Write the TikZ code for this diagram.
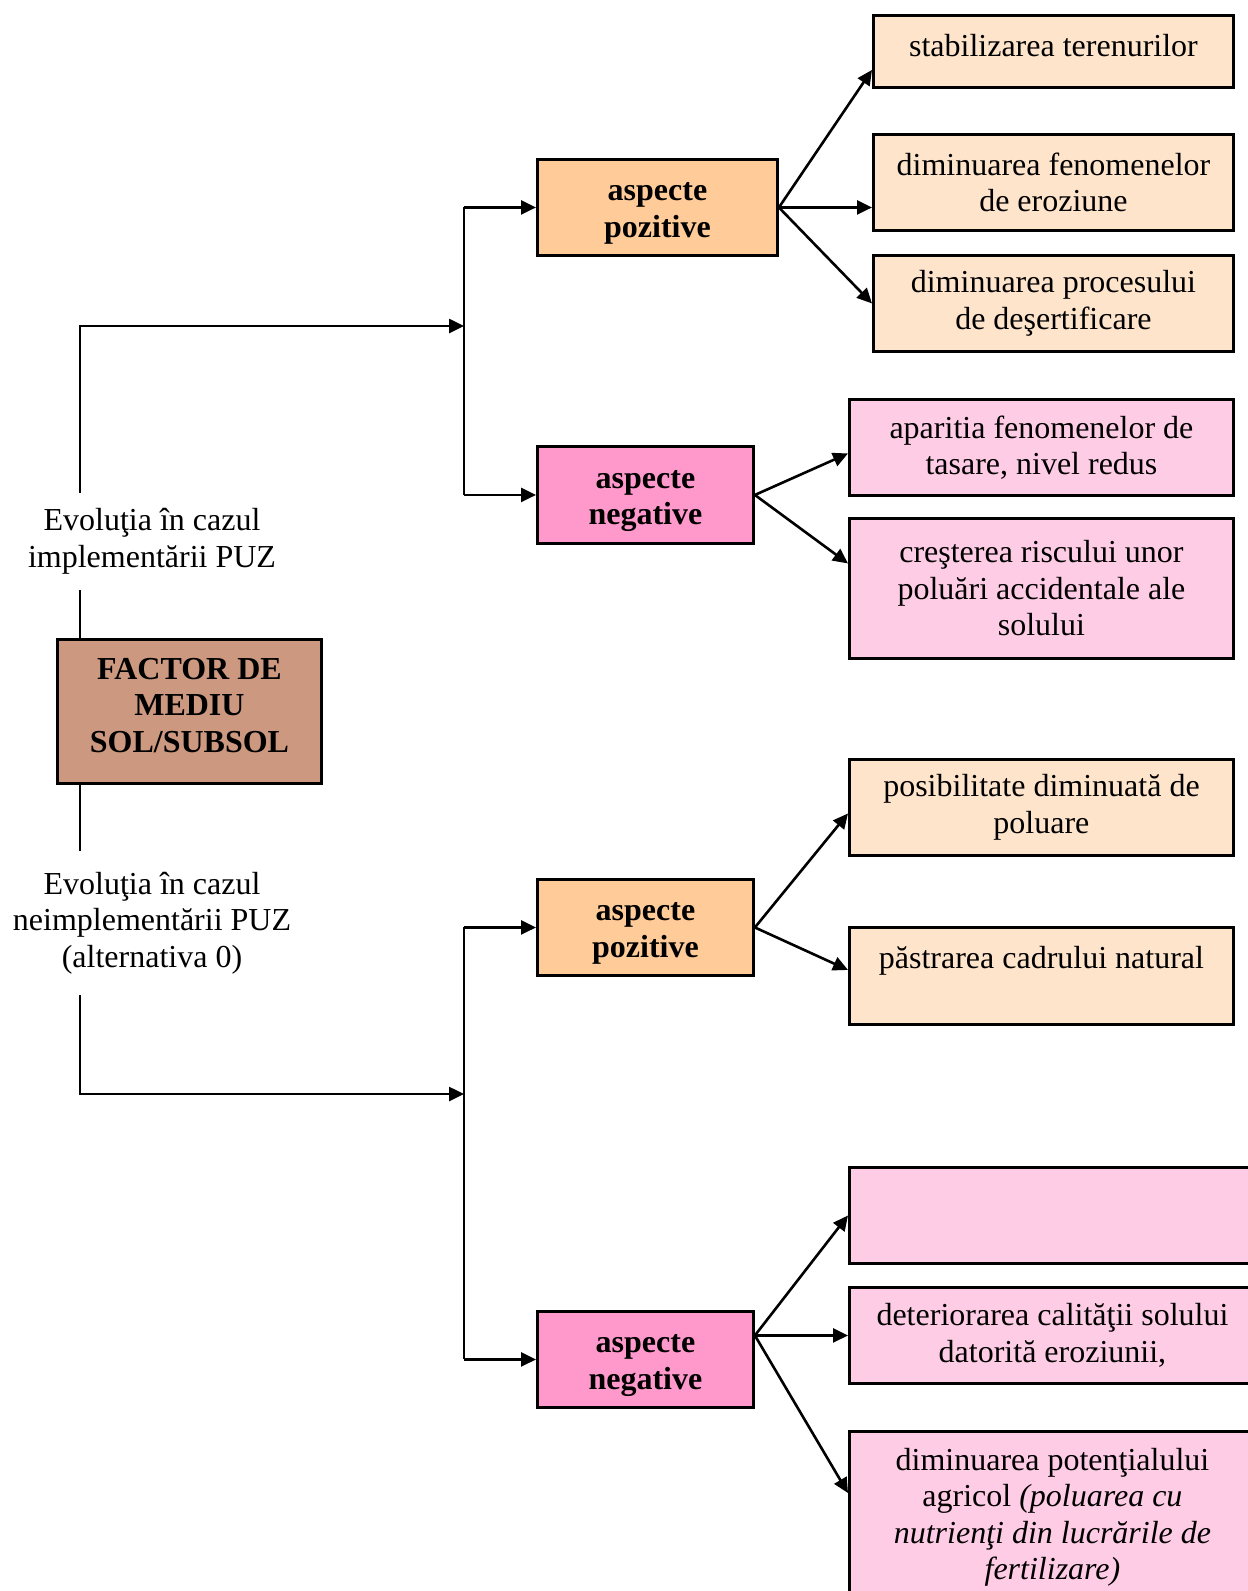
\documentclass[tikz,border=0pt]{standalone}
\usepackage{fontspec}
\setmainfont{Liberation Serif}
\usetikzlibrary{arrows.meta,calc}
\definecolor{factorc}{HTML}{CC9980}
\definecolor{posc}{HTML}{FFCC99}
\definecolor{poslight}{HTML}{FFE4CC}
\definecolor{negc}{HTML}{FF99CC}
\definecolor{neglight}{HTML}{FFCCE5}
\begin{document}
\begin{tikzpicture}[x=1pt,y=-1pt,
  box/.style={draw=black, line width=2.9pt, align=center, inner sep=0pt, anchor=north west,
    font=\fontsize{32}{36.5}\selectfont},
  frame/.style={draw=black, line width=2.9pt, inner sep=0pt, anchor=north west},
  lbl/.style={align=center, inner sep=0pt, font=\fontsize{32}{36.5}\selectfont},
  boldtxt/.style={lbl, font=\fontsize{32}{36.5}\selectfont\bfseries},
  conn/.style={line width=2.6pt},
  arr/.style={line width=2.6pt, -{Triangle[length=15pt,width=14pt]}}]
\useasboundingbox (0,0) rectangle (1248,1591);

% main factor
\node[frame, fill=factorc, minimum width=264pt, minimum height=144pt] (factor) at (56,638) {};
\node[boldtxt] (factort) at ([yshift=6pt]factor.center) {FACTOR DE\\MEDIU\\SOL/SUBSOL};

% labels
\node[lbl, minimum height=97pt] (lab1) at (152,541.5) {\raisebox{-4pt}{Evoluţia în cazul}\\\raisebox{-4pt}{implementării PUZ}};
\node[lbl, minimum height=144pt] (lab2) at (152,923) {Evoluţia în cazul\\neimplementării PUZ\\(alternativa 0)};

% aspect boxes
\node[frame, fill=posc, minimum width=240pt, minimum height=96pt] (pos1) at (536,158) {};
\node[boldtxt] (pos1t) at ([yshift=-6pt]pos1.center) {aspecte\\pozitive};
\node[frame, fill=negc, minimum width=216pt, minimum height=97pt] (neg1) at (536,445) {};
\node[boldtxt] (neg1t) at ([yshift=-6pt]neg1.center) {aspecte\\negative};
\node[frame, fill=posc, minimum width=216pt, minimum height=96pt] (pos2) at (536,878) {};
\node[boldtxt] (pos2t) at ([yshift=-6pt]pos2.center) {aspecte\\pozitive};
\node[frame, fill=negc, minimum width=216pt, minimum height=96pt] (neg2) at (536,1310) {};
\node[boldtxt] (neg2t) at ([yshift=-6pt]neg2.center) {aspecte\\negative};

% leaf boxes, upper part
\node[frame, fill=poslight, minimum width=360pt, minimum height=72pt] (s1) at (872,14) {};
\node[lbl] (s1t) at ([yshift=6pt]s1.center) {stabilizarea terenurilor};
\node[box, fill=poslight, minimum width=360pt, minimum height=96pt] (s2) at (872,133) {diminuarea fenomenelor\\de eroziune};
\node[box, fill=poslight, minimum width=360pt, minimum height=96pt] (s3) at (872,254) {\raisebox{-3pt}{diminuarea procesului}\\\raisebox{-3pt}{de deşertificare}};
\node[box, fill=neglight, minimum width=384pt, minimum height=96pt] (n1) at (848,398) {\raisebox{-3pt}{aparitia fenomenelor de}\\\raisebox{-3pt}{tasare, nivel redus}};
\node[box, fill=neglight, minimum width=384pt, minimum height=140pt] (n2) at (848,517) {creşterea riscului unor\\poluări accidentale ale\\solului};

% leaf boxes, lower part
\node[box, fill=poslight, minimum width=384pt, minimum height=96pt] (p1) at (848,758) {\raisebox{-3pt}{posibilitate diminuată de}\\\raisebox{-3pt}{poluare}};
\node[box, fill=poslight, minimum width=384pt, minimum height=97pt] (p2) at (848,926) {păstrarea cadrului natural\\\mbox{}};
\node[box, fill=neglight, minimum width=406pt, minimum height=96pt] (e1) at (848,1166) {};
\node[box, fill=neglight, minimum width=406pt, minimum height=96pt] (d1) at (848,1286) {\raisebox{-3pt}{deteriorarea calităţii solului}\\\raisebox{-3pt}{datorită eroziunii,}};
\node[box, fill=neglight, minimum width=406pt, minimum height=172pt] (d2) at (848,1430)
  {diminuarea potenţialului\\agricol \textit{(poluarea cu}\\\textit{nutrienţi din lucrările de}\\\textit{fertilizare)}};

% coordinates
\coordinate (vx) at (80,0);
\coordinate (j1) at (464,326);
\coordinate (j2) at (464,1094);

% trunk connectors
\draw[conn] (factor.north -| vx) -- (lab1.south -| vx);
\draw[arr] (lab1.north -| vx) |- (j1);
\draw[conn] (factor.south -| vx) -- (lab2.north -| vx);
\draw[arr] (lab2.south -| vx) |- (j2);

\draw[conn] (pos1.west -| j1) -- (neg1.west -| j1);
\draw[arr] (pos1.west -| j1) -- (pos1.west);
\draw[arr] (neg1.west -| j1) -- (neg1.west);
\draw[conn] (pos2.west -| j2) -- (neg2.west -| j2);
\draw[arr] (pos2.west -| j2) -- (pos2.west);
\draw[arr] (neg2.west -| j2) -- (neg2.west);

% branches
\draw[arr] (pos1.east) -- ([yshift=19pt]s1.south west);
\draw[arr] (pos1.east) -- (pos1.east -| s2.west);
\draw[arr] (pos1.east) -- (s3.west);
\draw[arr] (neg1.east) -- ([yshift=-6pt]n1.west);
\draw[arr] (neg1.east) -- ([yshift=25pt]n2.west);
\draw[arr] (pos2.east) -- ([yshift=-6pt]p1.west);
\draw[arr] (pos2.east) -- ([yshift=6pt]p2.west);
\draw[arr] ([yshift=24pt]neg2.east) -- (e1.west);
\draw[arr] ([yshift=24pt]neg2.east) -- ([yshift=24pt]neg2.east -| d1.west);
\draw[arr] ([yshift=24pt]neg2.east) -- ([yshift=-63pt]d2.north west);
\end{tikzpicture}
\end{document}
